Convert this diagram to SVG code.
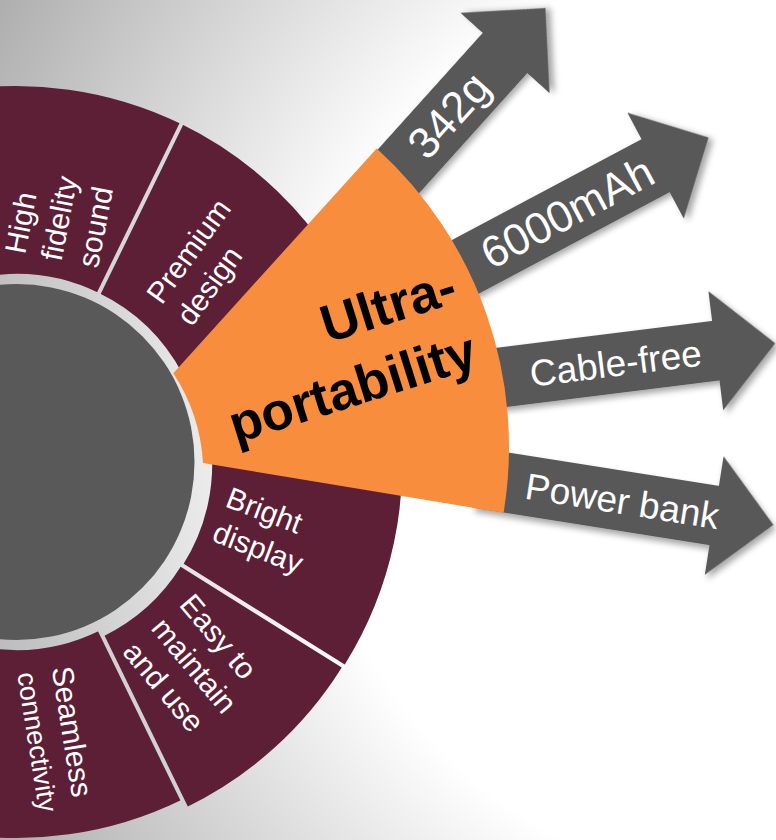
<svg xmlns="http://www.w3.org/2000/svg" width="776" height="840" viewBox="0 0 776 840">
<defs>
<radialGradient id="bg" gradientUnits="userSpaceOnUse" cx="776" cy="420" r="900">
<stop offset="0" stop-color="#ffffff"/>
<stop offset="0.52" stop-color="#ffffff"/>
<stop offset="1" stop-color="#ababab"/>
</radialGradient>
<filter id="sh" x="-20%" y="-30%" width="150%" height="160%">
<feDropShadow dx="3" dy="4" stdDeviation="3" flood-color="#000" flood-opacity="0.35"/>
</filter>
</defs>
<style>
.seg{fill:#5c1f35}
.sep{stroke:url(#bg);stroke-width:4;fill:none}
.lbl{font-family:"Liberation Sans",Arial,sans-serif;font-size:30px;fill:#ffffff}
.arr{fill:#595959}
.at{font-family:"Liberation Sans",Arial,sans-serif;fill:#ffffff;text-anchor:middle}
.big{font-family:"Liberation Sans",Arial,sans-serif;font-weight:bold;font-size:53px;fill:#000000;text-anchor:end}
</style>
<rect x="0" y="0" width="776" height="840" fill="url(#bg)"/>

<g id="seg-high-fidelity">
<path class="seg" d="M -48.79,91.71 A 376 376 0 0 1 181.33,124.05 L 98.91,293.03 A 188 188 0 0 0 -16.15,276.86 Z"/>
<text class="lbl" transform="translate(25,255) rotate(-79)"><tspan x="0" y="0">High</tspan><tspan x="0" y="37">fidelity</tspan><tspan x="0" y="74">sound</tspan></text>
</g>
<g id="seg-premium-design">
<path class="seg" d="M 181.33,124.05 A 376 376 0 0 1 348.49,285.48 L 182.49,373.74 A 188 188 0 0 0 98.91,293.03 Z"/>
<text class="lbl" transform="translate(161.7,305.7) rotate(-54)"><tspan x="0" y="0">Premium</tspan><tspan x="0" y="37">design</tspan></text>
</g>
<g id="seg-bright-display">
<path class="seg" d="M 398.52,411.59 A 378 378 0 0 1 344.76,664.51 L 183.63,563.82 A 188 188 0 0 0 210.37,438.04 Z"/>
<text class="lbl" transform="translate(224,506) rotate(21)"><tspan x="0" y="0">Bright</tspan><tspan x="0" y="37">display</tspan></text>
</g>
<g id="seg-easy">
<path class="seg" d="M 341.76,667.51 A 378 378 0 0 1 186.90,806.94 L 103.61,636.17 A 188 188 0 0 0 180.63,566.82 Z"/>
<text class="lbl" transform="translate(178.3,605) rotate(50)"><tspan x="0" y="0">Easy to</tspan><tspan x="0" y="37">maintain</tspan><tspan x="0" y="74">and use</tspan></text>
</g>
<g id="seg-seamless">
<path class="seg" d="M 181.33,799.95 A 376 376 0 0 1 -48.79,832.29 L -16.15,647.14 A 188 188 0 0 0 98.91,630.97 Z"/>
<text class="lbl" transform="translate(51.7,668.3) rotate(81)"><tspan x="0" y="0">Seamless</tspan><tspan x="0" y="35" font-size="27">connectivity</tspan></text>
</g>
<g id="separators">
<line class="sep" x1="97.16" y1="296.62" x2="183.96" y2="118.66"/>
<line class="sep" x1="99.51" y1="629.98" x2="187.62" y2="810.63"/>
</g>

<g id="connectors">
<g id="arrow-342g" transform="translate(505,53) rotate(-48)">
<path class="arr" filter="url(#sh)" d="M -190,-30 L 0,-30 L 0,-60 L 60.5,0 L 0,60 L 0,30 L -190,30 Z"/>
<text class="at" x="-84" y="15" font-size="44">342g</text>
</g>
<g id="arrow-6000mah" transform="translate(655.6,165.7) rotate(-28)">
<path class="arr" filter="url(#sh)" d="M -245,-30 L 0,-30 L 0,-60 L 60,0 L 0,60 L 0,30 L -245,30 Z"/>
<text class="at" x="-100" y="15" font-size="44">6000mAh</text>
</g>
<g id="arrow-cable-free" transform="translate(715.8,350.7) rotate(-7.1)">
<path class="arr" filter="url(#sh)" d="M -245,-30 L 0,-30 L 0,-60 L 60,0 L 0,60 L 0,30 L -245,30 Z"/>
<text class="at" x="-101" y="13" font-size="37">Cable-free</text>
</g>
<g id="arrow-power-bank" transform="translate(714.2,515.5) rotate(9)">
<path class="arr" filter="url(#sh)" d="M -240,-30 L 0,-30 L 0,-60 L 60,0 L 0,60 L 0,30 L -240,30 Z"/>
<text class="at" x="-93" y="13" font-size="37">Power bank</text>
</g>
</g>

<g id="node-ultra-portability">
<path fill="#f88d3d" d="M 173.3,373.3 L 376.7,148.4 A 403 403 0 0 1 503.6,512.8 L 203,463 A 183 183 0 0 0 173.3,373.3 Z"/>
<text class="big" transform="rotate(-17.5 480 366.4)"><tspan x="480" y="298.4">Ultra-</tspan><tspan x="480" y="366.4">portability</tspan></text>
</g>

<g id="center">
<circle cx="16.5" cy="462" r="178" fill="#595959"/>
</g>
</svg>
